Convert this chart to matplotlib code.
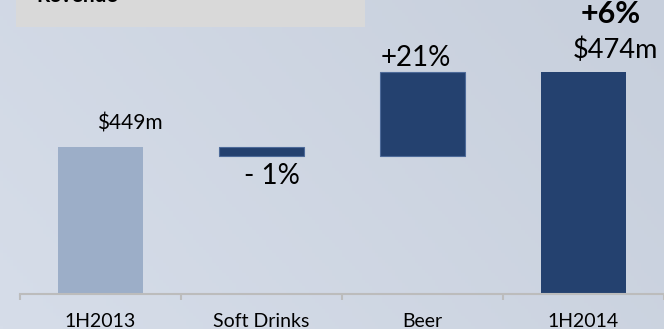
import matplotlib
matplotlib.use('Agg')
import matplotlib.pyplot as plt
import numpy as np

plt.rcParams['font.family'] = ['Lato', 'DejaVu Sans']

# data
categories = ['1H2013', 'Soft Drinks', 'Beer', '1H2014']
start_val = 449
changes = [-3, 28]
end_val = 474
labels = ['$449m', '- 1%', '+21%', '$474m']
total_change = '+6%'

# waterfall geometry from the data
tops = [start_val]
bottoms = [0]
run = start_val
for c in changes:
    bottoms.append(min(run, run + c))
    tops.append(max(run, run + c))
    run += c
tops.append(end_val)
bottoms.append(0)
heights = [t - b for t, b in zip(tops, bottoms)]

fig = plt.figure(figsize=(6.64, 3.29), dpi=100)

# gradient background
bg = fig.add_axes([0, 0, 1, 1], zorder=0)
xx, yy = np.meshgrid(np.linspace(0, 1, 200), np.linspace(0, 1, 100))
g = (xx * 0.7 + (1 - yy) * 0.3)
c1 = np.array([214, 221, 233]) / 255
c2 = np.array([199, 207, 220]) / 255
img = c1[None, None, :] * (1 - g[..., None]) + c2[None, None, :] * g[..., None]
bg.imshow(img, aspect='auto', extent=[0, 1, 0, 1], origin='upper')
bg.set_axis_off()

# title box
fig.patches.append(plt.Rectangle((16 / 664, 1 - 27 / 329), 349 / 664, 27 / 329,
                                 transform=fig.transFigure, facecolor='#d9d9d9',
                                 edgecolor='none', zorder=1))
fig.text(36 / 664, 1 - 1.5 / 329, 'Revenue', fontsize=15, fontweight='bold',
         va='baseline', ha='left', color='black', zorder=2)

ax = fig.add_axes([20 / 664, 35 / 329, 644 / 664, 294 / 329], zorder=2)
ax.patch.set_alpha(0)

x = np.arange(len(categories))
colors = ['#9caec8', '#24416f', '#24416f', '#24416f']
edges = ['none', '#4d6a99', '#4d6a99', 'none']
ax.bar(x, heights, bottom=bottoms, width=0.53, color=colors,
       edgecolor=edges, linewidth=0.8)

ax.set_xlim(-0.5, 3.5)
ax.set_ylim(400, 498)

ax.text(0.18, tops[0] + 6, labels[0], fontsize=15, ha='center', va='baseline')
ax.text(1.065, bottoms[1] - 9.3, labels[1], fontsize=20, ha='center', va='baseline')
ax.text(1.96, tops[2] + 2, labels[2], fontsize=20, ha='center', va='baseline')
ax.text(3.2, tops[3] + 4.7, labels[3], fontsize=19.5, ha='center', va='baseline')
ax.text(3.17, tops[3] + 16.3, total_change, fontsize=22, fontweight='bold',
        ha='center', va='baseline')

for s in ['top', 'right', 'left']:
    ax.spines[s].set_visible(False)
ax.spines['bottom'].set_color('#bcbcbc')
ax.spines['bottom'].set_linewidth(1.5)
ax.set_yticks([])
ax.set_xticks(np.arange(-0.5, 4.0, 1.0), minor=False)
ax.set_xticklabels([])
ax.tick_params(axis='x', which='major', length=4.5, width=1.5, color='#bcbcbc')
ax.set_xticks(x, minor=True)
ax.set_xticklabels(categories, minor=True)
ax.tick_params(axis='x', which='minor', length=0, pad=14, labelsize=14)

fig.savefig('out.png', dpi=100)
